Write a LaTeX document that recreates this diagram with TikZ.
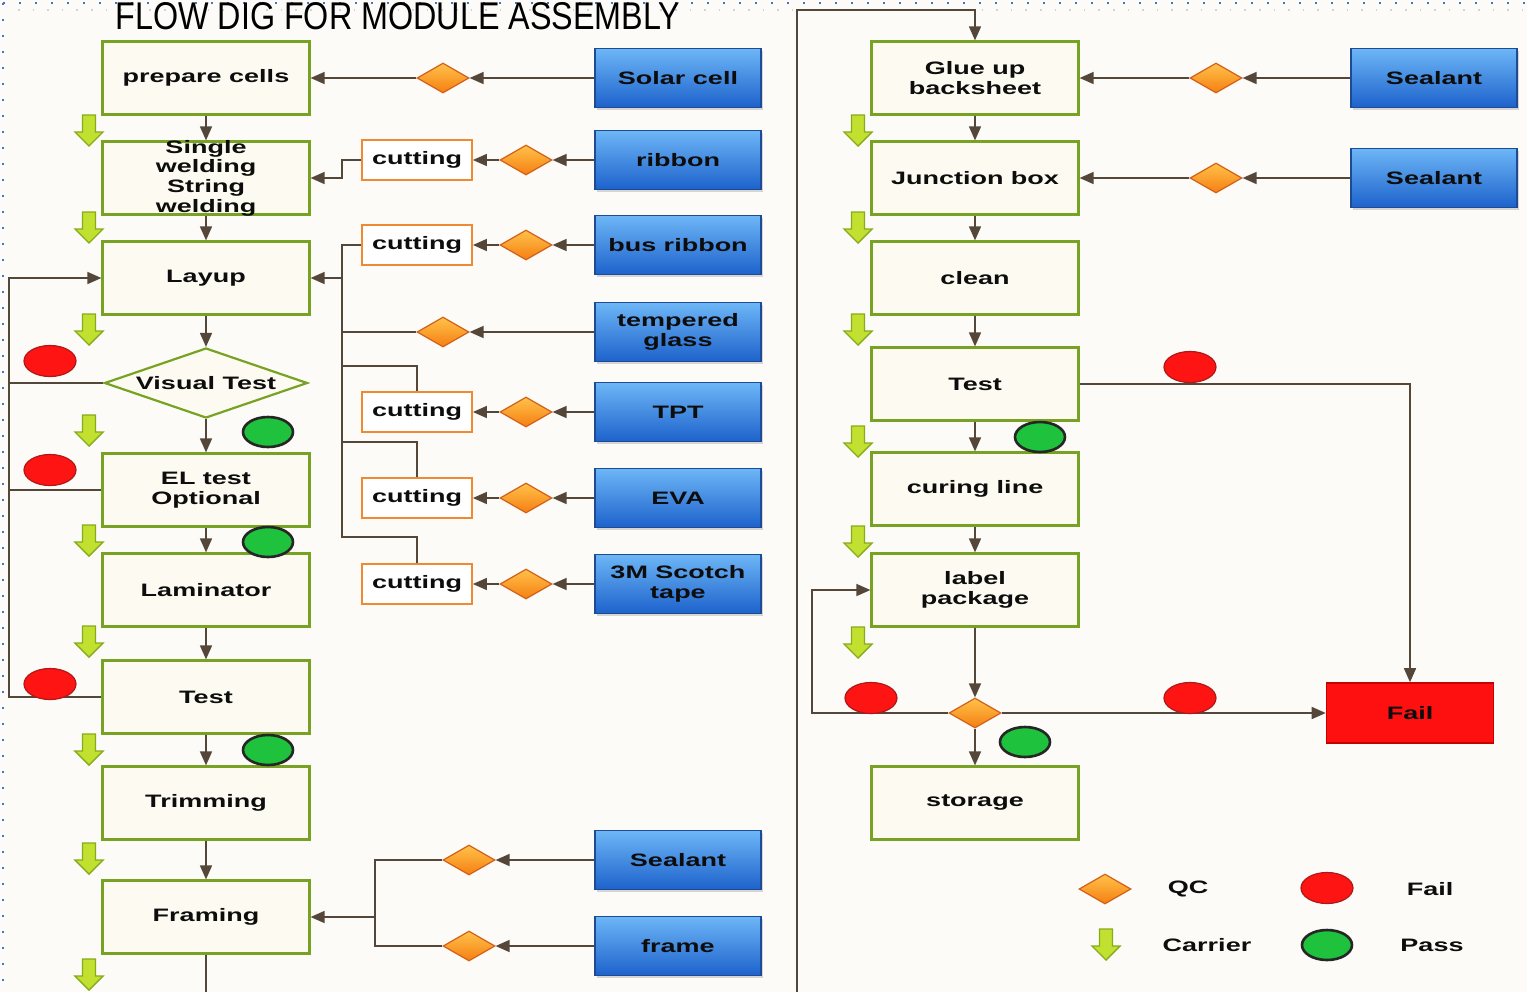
\documentclass[tikz,border=0pt]{standalone}
\usepackage{fontspec}
\usepackage{graphicx}
\setmainfont{Liberation Sans}
\newfontfamily\bxfont[FakeStretch=1.5]{Liberation Sans}
\usetikzlibrary{shapes.geometric,arrows.meta,shadows}
\definecolor{bgc}{HTML}{FCFBF7}
\definecolor{boxgreen}{HTML}{78A224}
\definecolor{boxfill}{HTML}{FDFBF1}
\definecolor{linec}{HTML}{54473A}
\definecolor{bluetop}{HTML}{6DB6F6}
\definecolor{bluebot}{HTML}{1D62CC}
\definecolor{blueedge}{HTML}{1E4C94}
\definecolor{cutor}{HTML}{F08A32}
\definecolor{qctop}{HTML}{FFC24A}
\definecolor{qcbot}{HTML}{F57F12}
\definecolor{qcedge}{HTML}{D2601A}
\definecolor{redf}{HTML}{FF1414}
\definecolor{rede}{HTML}{B01818}
\definecolor{greenf}{HTML}{1EC23C}
\definecolor{carf}{HTML}{C2E030}
\definecolor{care}{HTML}{86AC1C}
\definecolor{dotc}{HTML}{4A6ED8}
\definecolor{failf}{HTML}{FF1010}
\definecolor{faile}{HTML}{C40000}
\begin{document}
\begin{tikzpicture}[x=0.5pt,y=-0.5pt,
 txt/.style={font=\bxfont\bfseries\fontsize{9}{9.8}\selectfont,text=black!95,align=center},
 proc/.style={txt,draw=boxgreen,line width=1.1pt,fill=boxfill,minimum width=103.5pt,minimum height=36.5pt,inner sep=1pt},
 src/.style={txt,draw=blueedge,line width=0.6pt,top color=bluetop,bottom color=bluebot,minimum width=83pt,minimum height=29.5pt,inner sep=1pt,drop shadow={shadow xshift=1pt,shadow yshift=-1pt,opacity=0.3}},
 cutbox/.style={txt,draw=cutor,line width=0.9pt,fill=white,minimum width=55pt,minimum height=20pt,inner sep=1pt},
 qc/.style={diamond,draw=qcedge,line width=0.6pt,top color=qctop,bottom color=qcbot,minimum width=26pt,minimum height=15pt,inner sep=0pt},
 failc/.style={ellipse,draw=rede,fill=redf,line width=0.6pt,minimum width=26pt,minimum height=15.5pt,inner sep=0pt},
 passc/.style={ellipse,draw=black!85,fill=greenf,line width=1.3pt,minimum width=25pt,minimum height=15pt,inner sep=0pt},
 failbox/.style={txt,draw=faile,line width=0.8pt,fill=failf,minimum width=83.5pt,minimum height=30pt,inner sep=1pt},
 legtxt/.style={txt,inner sep=0pt},
 conn/.style={draw=linec,line width=0.8pt},
 arr/.style={conn,-{Triangle[length=7pt,width=6pt]}},
 carrier/.pic={\path[draw=care,fill=carf,line width=0.7pt] (-6.5,-16) -- (6.5,-16) -- (6.5,1) -- (14,1) -- (0,15) -- (-14,1) -- (-6.5,1) -- cycle;}
]
\useasboundingbox (0,0) rectangle (1527,992);
\fill[bgc] (0,0) rectangle (1527,992);
\draw[gray!35,line width=0.8pt,dash pattern=on 0.8pt off 6.5pt] (18,10) -- (1527,10);
\draw[dotc,line width=1.2pt,dash pattern=on 1.2pt off 6.8pt] (3,3) -- (1527,3);
\draw[dotc,line width=1.2pt,dash pattern=on 1.2pt off 6.8pt] (3,3) -- (3,992);

% title
\node[anchor=base west,inner sep=0pt] (title) at (115,29) {\resizebox{282.5pt}{13.5pt}{FLOW DIG FOR MODULE ASSEMBLY}};

% left column
\node[proc] (pc) at (206,78) {prepare cells};
\node[proc,label={[txt]center:Single\\welding\\String\\welding}] (sw) at (206,178) {};
\node[proc] (lay) at (206,278) {Layup};
\node[diamond,draw=boxgreen,line width=1.1pt,fill=boxfill,minimum width=101.5pt,minimum height=35pt,inner sep=0pt,label={[txt]center:Visual Test}] (vt) at (206,383) {};
\node[proc] (el) at (206,490) {EL test\\Optional};
\node[proc] (lam) at (206,590) {Laminator};
\node[proc] (t1) at (206,697) {Test};
\node[proc] (trim) at (206,803) {Trimming};
\node[proc] (fr) at (206,917) {Framing};

% material sources
\node[src] (solar) at (678,78) {Solar cell};
\node[src] (ribbon) at (678,160) {ribbon};
\node[src] (bus) at (678,245) {bus ribbon};
\node[src] (glass) at (678,332) {tempered\\glass};
\node[src] (tpt) at (678,412) {TPT};
\node[src] (eva) at (678,498) {EVA};
\node[src] (tape) at (678,584) {3M Scotch\\tape};
\node[src] (seal1) at (678,860) {Sealant};
\node[src] (frame) at (678,946) {frame};
\node[src] (seal2) at (1434,78) {Sealant};
\node[src] (seal3) at (1434,178) {Sealant};

% cutting
\node[cutbox] (cut1) at (417,160) {cutting};
\node[cutbox] (cut2) at (417,245) {cutting};
\node[cutbox] (cut3) at (417,412) {cutting};
\node[cutbox] (cut4) at (417,498) {cutting};
\node[cutbox] (cut5) at (417,584) {cutting};

% QC diamonds
\node[qc] (q1) at (443,78) {};
\node[qc] (q2) at (526,160) {};
\node[qc] (q3) at (526,245) {};
\node[qc] (q4) at (443,332) {};
\node[qc] (q5) at (526,412) {};
\node[qc] (q6) at (526,498) {};
\node[qc] (q7) at (526,584) {};
\node[qc] (q8) at (469,860) {};
\node[qc] (q9) at (469,946) {};
\node[qc] (q10) at (1216,78) {};
\node[qc] (q11) at (1216,178) {};
\node[qc] (qcR) at (975,713) {};

% right column
\node[proc] (glue) at (975,78) {Glue up\\backsheet};
\node[proc] (jb) at (975,178) {Junction box};
\node[proc] (cl) at (975,278) {clean};
\node[proc] (t2) at (975,384) {Test};
\node[proc] (cure) at (975,489) {curing line};
\node[proc] (lab) at (975,590) {label\\package};
\node[proc] (sto) at (975,803) {storage};
\node[failbox] (fail) at (1410,713) {Fail};

% helper coordinates
\coordinate (botL) at (206,992);
\coordinate (botR) at (797,992);
\coordinate (topR) at (797,10);
\coordinate (j1) at (342,160);
\coordinate (busT) at (342,245);
\coordinate (busB) at (342,537);
\coordinate (bL) at (342,278);
\coordinate (bG) at (342,332);
\coordinate (b3) at (342,366);
\coordinate (b4) at (342,442);
\coordinate (f1) at (375,860);
\coordinate (f2) at (375,946);
\coordinate (f3) at (375,917);
\coordinate (fbB) at (9,697);
\coordinate (fbT) at (9,278);
\coordinate (lp1) at (812,713);
\coordinate (lp2) at (812,590);

% main flow left
\draw[arr] (pc.south) -- (sw.north);
\draw[arr] (sw.south) -- (lay.north);
\draw[arr] (lay.south) -- (vt.north);
\draw[arr] (vt.south) -- (el.north);
\draw[arr] (el.south) -- (lam.north);
\draw[arr] (lam.south) -- (t1.north);
\draw[arr] (t1.south) -- (trim.north);
\draw[arr] (trim.south) -- (fr.north);
\draw[conn] (fr.south) -- (botL);
\draw[arr] (botR) -- (topR) -| (glue.north);

% feeds
\draw[arr] (solar.west) -- (q1.east);
\draw[arr] (q1.west) -- (pc.east);
\draw[arr] (ribbon.west) -- (q2.east);
\draw[arr] (q2.west) -- (cut1.east);
\draw[arr] (cut1.west) -- (j1) |- (sw.east);
\draw[arr] (bus.west) -- (q3.east);
\draw[arr] (q3.west) -- (cut2.east);
\draw[conn] (cut2.west) -- (busT) -- (busB) -| (cut5.north);
\draw[arr] (bL) -- (lay.east);
\draw[arr] (glass.west) -- (q4.east);
\draw[conn] (q4.west) -- (bG);
\draw[conn] (cut3.north) |- (b3);
\draw[conn] (cut4.north) |- (b4);
\draw[arr] (tpt.west) -- (q5.east);
\draw[arr] (q5.west) -- (cut3.east);
\draw[arr] (eva.west) -- (q6.east);
\draw[arr] (q6.west) -- (cut4.east);
\draw[arr] (tape.west) -- (q7.east);
\draw[arr] (q7.west) -- (cut5.east);
\draw[arr] (seal1.west) -- (q8.east);
\draw[arr] (frame.west) -- (q9.east);
\draw[conn] (q8.west) -- (f1) -- (f2) -- (q9.west);
\draw[arr] (f3) -- (fr.east);

% left feedback
\draw[arr] (t1.west) -- (fbB) -- (fbT) -- (lay.west);
\draw[conn] (vt.west) -- (vt.west -| fbB);
\draw[conn] (el.west) -- (el.west -| fbB);

% right flow
\draw[arr] (seal2.west) -- (q10.east);
\draw[arr] (q10.west) -- (glue.east);
\draw[arr] (seal3.west) -- (q11.east);
\draw[arr] (q11.west) -- (jb.east);
\draw[arr] (glue.south) -- (jb.north);
\draw[arr] (jb.south) -- (cl.north);
\draw[arr] (cl.south) -- (t2.north);
\draw[arr] (t2.south) -- (cure.north);
\draw[arr] (cure.south) -- (lab.north);
\draw[arr] (lab.south) -- (qcR.north);
\draw[arr] (qcR.south) -- (sto.north);
\draw[arr] (qcR.east) -- (fail.west);
\draw[arr] (t2.east) -| (fail.north);
\draw[arr] (qcR.west) -- (lp1) -- (lp2) -- (lab.west);

% pass / fail markers
\node[failc] (r1) at (50,361) {};
\node[failc] (r2) at (50,470) {};
\node[failc] (r3) at (50,684) {};
\node[passc] (g1) at (268,432) {};
\node[passc] (g2) at (268,542) {};
\node[passc] (g3) at (268,750) {};
\node[failc] (r4) at (1190,367) {};
\node[passc] (g4) at (1040,437) {};
\node[failc] (r5) at (871,698) {};
\node[failc] (r6) at (1190,698) {};
\node[passc] (g5) at (1025,742) {};

% carriers
\foreach \yy in {131,228,330,431,541,642,750,859,975} \pic at (89,\yy) {carrier};
\foreach \yy in {131,228,330,442,542,643} \pic at (858,\yy) {carrier};

% legend
\node[qc] (qL) at (1105,889) {};
\node[legtxt] (lqc) at (1188,889) {QC};
\node[failc] (rL) at (1327,888) {};
\node[legtxt] (lfail) at (1430,889) {Fail};
\pic at (1106,945) {carrier};
\node[legtxt] (lcar) at (1207,945) {Carrier};
\node[passc] (gL) at (1327,945) {};
\node[legtxt] (lpass) at (1432,945) {Pass};
\end{tikzpicture}
\end{document}
